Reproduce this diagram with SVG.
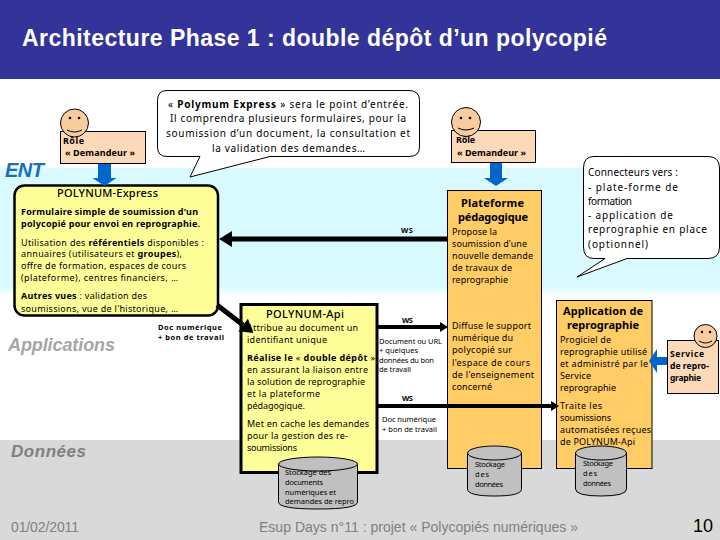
<svg xmlns="http://www.w3.org/2000/svg" width="720" height="540" viewBox="0 0 720 540">
<style>
text{font-family:"Noto Sans","DejaVu Sans",sans-serif;fill:#000}
.t{font-size:9px}
.c{font-size:10px}
.l{font-size:7.5px}
.s{font-size:7.5px}
.sv{font-size:8.5px;font-weight:700}
.h{font-size:11px;font-weight:700}
.n{font-size:11px;font-weight:500}
.b{font-weight:700}
.zone{font-family:"Liberation Sans",Arial,sans-serif;font-weight:700;font-style:italic}
.foot{font-family:"Liberation Sans",Arial,sans-serif;font-size:14px;fill:#808080}
.orange{fill:#ffcc66;stroke:#000;stroke-width:1}
.yellow{fill:#ffff99;stroke:#000}
.role{fill:#fcd9b9;stroke:#000;stroke-width:1}
.face{fill:#f9cc9d;stroke:#000;stroke-width:1}
.mouth{fill:none;stroke:#000;stroke-width:1}
.cyl{fill:#c0c0c0;stroke:#000;stroke-width:1}
.bubble{fill:#fff;stroke:#000;stroke-width:1}
.ws{fill:none;stroke:#000}
.up{fill:none;stroke:#0066cc}
</style>
<defs>
<linearGradient id="fade" x1="0" y1="0" x2="0" y2="1"><stop offset="0" stop-color="#d9fbff"/><stop offset="0.93" stop-color="#d9fbff"/><stop offset="1" stop-color="#fff"/></linearGradient>
<marker id="head" markerUnits="userSpaceOnUse" markerWidth="16" markerHeight="18" refX="0" refY="9" orient="auto"><path d="M0 1L13 9L0 17Z" fill="#000"/></marker>
<marker id="smallhead" markerUnits="userSpaceOnUse" markerWidth="9" markerHeight="10" refX="0" refY="5" orient="auto"><path d="M0 0L8 5L0 10Z" fill="#000"/></marker>
<marker id="bluehead" markerUnits="userSpaceOnUse" markerWidth="10" markerHeight="26" refX="0" refY="13" orient="auto"><path d="M0 1L8 13L0 25Z" fill="#0066cc"/></marker>
</defs>

<g id="background">
<rect width="720" height="540" fill="#fff"/>
<rect width="720" height="79" fill="#333399"/>
<rect y="168" width="720" height="128" fill="url(#fade)"/>
<rect y="440" width="720" height="100" fill="#d9d9d9"/>
<text x="22" y="46" font-size="23" font-weight="700" style="font-family:'Liberation Sans',Arial,sans-serif;fill:#fff" textLength="585">Architecture Phase 1 : double dépôt d’un polycopié</text>
<text class="zone" x="5" y="177" font-size="20" style="fill:#1a6fb8" textLength="39">ENT</text>
<text class="zone" x="8" y="351" font-size="18" style="fill:#a6a6a6" textLength="107">Applications</text>
<text class="zone" x="11" y="457" font-size="17" style="fill:#808080" textLength="75">Données</text>
<text class="foot" x="11" y="532" textLength="68">01/02/2011</text>
<text class="foot" x="259" y="532" textLength="319">Esup Days n°11 : projet « Polycopiés numériques »</text>
<text x="693" y="532" font-size="18" style="font-family:'Liberation Sans',Arial,sans-serif" textLength="20">10</text>
</g>

<g id="role-demandeur-1">
<rect class="role" x="60.500" y="131.500" width="85" height="32"/>
<circle class="face" cx="74.500" cy="123" r="14"/>
<circle cx="70" cy="118" r="1.300"/><circle cx="79" cy="118" r="1.300"/>
<path class="mouth" d="M67 130Q74.500 134 82 130"/>
<text class="t b" x="63" y="144" textLength="21">Rôle</text>
<text class="t b" x="65" y="156" textLength="70">« Demandeur »</text>
</g>

<g id="role-demandeur-2">
<rect class="role" x="451.500" y="130.500" width="84" height="32"/>
<circle class="face" cx="466" cy="122" r="14.500"/>
<circle cx="461" cy="118" r="1.300"/><circle cx="470" cy="118" r="1.300"/>
<path class="mouth" d="M458 128Q466 132 474 128"/>
<text class="t b" x="456" y="143" textLength="19">Rôle</text>
<text class="t b" x="457" y="156" textLength="69">« Demandeur »</text>
</g>

<g id="callout-polymum">
<path class="bubble" d="M167 90.500H409Q419.500 90.500 419.500 100.500V147Q419.500 156.500 409 156.500H270L190 177L200 156.500H167Q157.500 156.500 157.500 147V100.500Q157.500 90.500 167 90.500Z"/>
<text class="c" x="168" y="108" textLength="240">« <tspan class="b">Polymum Express</tspan> » sera le point d’entrée.</text>
<text class="c" x="170" y="122" textLength="236">Il comprendra plusieurs formulaires, pour la</text>
<text class="c" x="166" y="137" textLength="244">soumission d’un document, la consultation et</text>
<text class="c" x="212" y="152" textLength="153">la validation des demandes…</text>
</g>

<g id="callout-connecteurs">
<path class="bubble" d="M594 156.500H708Q719.500 156.500 719.500 168V247Q719.500 258.500 708 258.500H627L577 277L605 258.500H594Q583.500 258.500 583.500 247V168Q583.500 156.500 594 156.500Z"/>
<text class="c" x="588" y="176" textLength="90">Connecteurs vers :</text>
<text class="c" x="588" y="191" textLength="90">- plate-forme de</text>
<text class="c" x="588" y="205" textLength="44">formation</text>
<text class="c" x="588" y="219" textLength="85">- application de</text>
<text class="c" x="588" y="233" textLength="119">reprographie en place</text>
<text class="c" x="588" y="248" textLength="60">(optionnel)</text>
</g>

<g id="polynum-express">
<rect class="yellow" x="14.500" y="185.500" width="203.500" height="130" rx="10" stroke-width="2.500"/>
<text class="n" x="57" y="197" textLength="101">POLYNUM-Express</text>
<text class="t b" x="21" y="215" textLength="177">Formulaire simple de soumission d'un</text>
<text class="t b" x="21" y="227" textLength="179">polycopié pour envoi en reprographie.</text>
<text class="t" x="21" y="245.500" textLength="183">Utilisation des <tspan class="b">référentiels</tspan> disponibles :</text>
<text class="t" x="21" y="257" textLength="161">annuaires (utilisateurs et <tspan class="b">groupes</tspan>),</text>
<text class="t" x="21" y="269" textLength="165">offre de formation, espaces de cours</text>
<text class="t" x="21" y="281" textLength="157">(plateforme), centres financiers, …</text>
<text class="t" x="21" y="299" textLength="126"><tspan class="b">Autres vues</tspan> : validation des</text>
<text class="t" x="21" y="312" textLength="157">soumissions, vue de l'historique, …</text>
</g>

<g id="polynum-api">
<rect class="yellow" x="241" y="304.500" width="136" height="168" stroke-width="3"/>
<text class="n" x="266" y="318" textLength="78">POLYNUM-Api</text>
<text class="t" x="247" y="331" textLength="111">Attribue au document un</text>
<text class="t" x="247" y="343" textLength="80">identifiant unique</text>
<text class="t" x="247" y="361" textLength="128"><tspan class="b">Réalise le</tspan> « <tspan class="b">double dépôt</tspan> »</text>
<text class="t" x="247" y="373" textLength="121">en assurant la liaison entre</text>
<text class="t" x="247" y="385" textLength="118">la solution de reprographie</text>
<text class="t" x="247" y="397" textLength="73">et la plateforme</text>
<text class="t" x="247" y="409" textLength="58">pédagogique.</text>
<text class="t" x="247" y="427" textLength="122">Met en cache les demandes</text>
<text class="t" x="247" y="439" textLength="101">pour la gestion des re-</text>
<text class="t" x="247" y="451" textLength="50">soumissions</text>
</g>

<g id="stockage-api">
<path class="cyl" d="M278.500 464V502Q278.500 509 318 509T357.500 502V464Z"/>
<ellipse class="cyl" cx="318" cy="464" rx="39.500" ry="7"/>
<text class="s" x="285" y="475" textLength="46">Stockage des</text>
<text class="s" x="285" y="485" textLength="38">documents</text>
<text class="s" x="285" y="495" textLength="51">numériques et</text>
<text class="s" x="285" y="504" textLength="69">demandes de repro</text>
</g>

<g id="plateforme">
<rect class="orange" x="447.500" y="190.500" width="94" height="278"/>
<text class="h" x="461" y="207" textLength="63">Plateforme</text>
<text class="h" x="458" y="221" textLength="70">pédagogique</text>
<text class="t" x="452" y="235" textLength="45">Propose la</text>
<text class="t" x="452" y="247" textLength="75">soumission d'une</text>
<text class="t" x="452" y="259" textLength="81">nouvelle demande</text>
<text class="t" x="452" y="271" textLength="60">de travaux de</text>
<text class="t" x="452" y="283" textLength="56">reprographie</text>
<text class="t" x="452" y="329" textLength="79">Diffuse le support</text>
<text class="t" x="452" y="341" textLength="61">numérique du</text>
<text class="t" x="452" y="353" textLength="60">polycopié sur</text>
<text class="t" x="452" y="366" textLength="78">l'espace de cours</text>
<text class="t" x="452" y="378" textLength="82">de l'enseignement</text>
<text class="t" x="452" y="390" textLength="40">concerné</text>
</g>

<g id="stockage-plateforme">
<path class="cyl" d="M467.500 453V489Q467.500 496 494.500 496T521.500 489V453Z"/>
<ellipse class="cyl" cx="494.500" cy="453" rx="27" ry="7"/>
<text class="s" x="475" y="467" textLength="30">Stockage</text>
<text class="s" x="475" y="477" textLength="14">des</text>
<text class="s" x="475" y="487" textLength="28">données</text>
</g>

<g id="application-reprographie">
<rect class="orange" x="556.500" y="300.500" width="95.500" height="168"/>
<text class="h" x="563" y="315" textLength="80">Application de</text>
<text class="h" x="567" y="329" textLength="72">reprographie</text>
<text class="t" x="560" y="343" textLength="51">Progiciel de</text>
<text class="t" x="560" y="355" textLength="87">reprographie utilisé</text>
<text class="t" x="560" y="367" textLength="88">et administré par le</text>
<text class="t" x="560" y="379" textLength="31">Service</text>
<text class="t" x="560" y="391" textLength="56">reprographie</text>
<text class="t" x="560" y="409" textLength="42">Traite les</text>
<text class="t" x="560" y="421" textLength="51">soumissions</text>
<text class="t" x="560" y="433" textLength="91">automatisées reçues</text>
<text class="t" x="560" y="445" textLength="75">de POLYNUM-Api</text>
</g>

<g id="stockage-application">
<path class="cyl" d="M575.500 453V489Q575.500 496 601 496T626.500 489V453Z"/>
<ellipse class="cyl" cx="601" cy="453" rx="25.500" ry="7"/>
<text class="s" x="583" y="466" textLength="30">Stockage</text>
<text class="s" x="583" y="476" textLength="14">des</text>
<text class="s" x="583" y="486" textLength="28">données</text>
</g>

<g id="service-reprographie">
<rect class="role" x="667.500" y="340.500" width="51" height="53"/>
<circle class="face" cx="705.500" cy="336" r="11.500"/>
<circle cx="702" cy="332" r="1.200"/><circle cx="710" cy="332" r="1.200"/>
<path class="mouth" d="M699 341Q705.500 345 712 341"/>
<text class="sv" x="670" y="357" textLength="34">Service</text>
<text class="sv" x="670" y="369" textLength="39">de repro-</text>
<text class="sv" x="670" y="381" textLength="31">graphie</text>
</g>

<g id="connectors">
<path class="up" stroke-width="13" d="M104.500 164V178" marker-end="url(#bluehead)"/>
<path class="up" stroke-width="12" d="M496 163V178" marker-end="url(#bluehead)"/>
<path class="up" stroke-width="8" d="M667 361H657" marker-end="url(#bluehead)"/>
<path class="ws" stroke-width="5" d="M447 239H232" marker-end="url(#head)"/>
<path class="ws" stroke-width="5" d="M217 305L243 325" marker-end="url(#head)"/>
<path class="ws" stroke-width="4" d="M377 327H440" marker-end="url(#smallhead)"/>
<path class="ws" stroke-width="4" d="M377 406H551" marker-end="url(#smallhead)"/>
</g>

<g id="connector-labels">
<text class="l b" x="401" y="233" textLength="12">WS</text>
<text class="l b" x="402" y="323" textLength="11">WS</text>
<text class="l b" x="402" y="401" textLength="11">WS</text>
<text class="l b" x="158" y="330" textLength="64">Doc numérique</text>
<text class="l b" x="158" y="340" textLength="66">+ bon de travail</text>
<text class="l" x="379" y="344" textLength="63">Document ou URL</text>
<text class="l" x="379" y="353" textLength="39">+ quelques</text>
<text class="l" x="379" y="363" textLength="55">données du bon</text>
<text class="l" x="379" y="372" textLength="32">de travail</text>
<text class="l" x="382" y="422" textLength="54">Doc numérique</text>
<text class="l" x="382" y="432" textLength="55">+ bon de travail</text>
</g>
</svg>
